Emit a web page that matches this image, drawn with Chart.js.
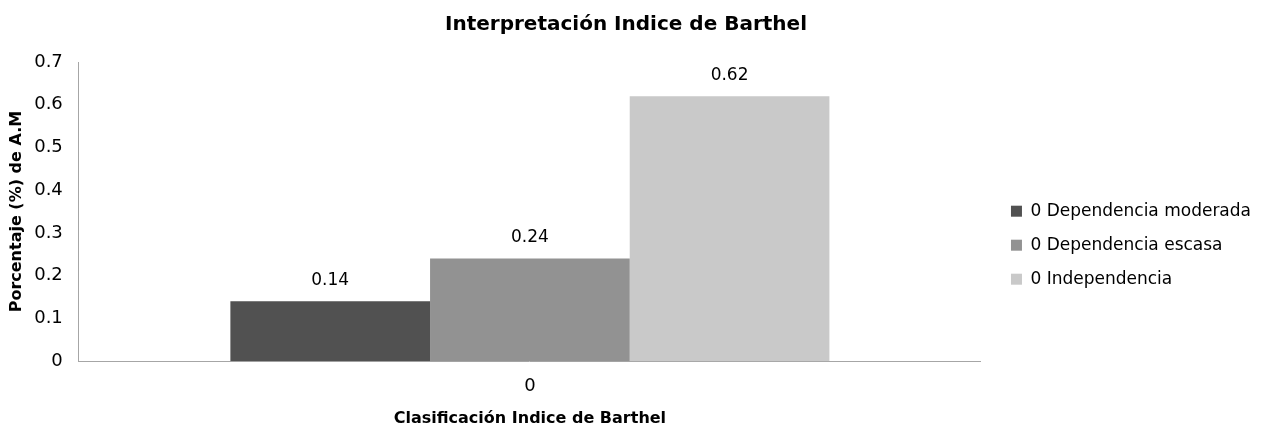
<!DOCTYPE html>
<html>
<head>
<meta charset="utf-8">
<script src="https://cdn.jsdelivr.net/npm/chart.js@4"></script>
<style>
  html, body { margin: 0; padding: 0; background: #fff; }
  #wrap { width: 1266px; height: 429px; position: relative; }
</style>
</head>
<body>
<div id="wrap"><canvas id="barthelChart"></canvas></div>
<script>
// data
const categories = ['0'];
const seriesNames = ['0 Dependencia moderada', '0 Dependencia escasa', '0 Independencia'];
const seriesValues = [[0.14], [0.24], [0.62]];
const seriesColors = ['#515151', '#929292', '#c9c9c9'];
const yTicks = [0, 0.1, 0.2, 0.3, 0.4, 0.5, 0.6, 0.7];

const FONT = "'DejaVu Sans', sans-serif";

// value labels above bars
const valueLabels = {
    id: 'valueLabels',
    afterDatasetsDraw(chart) {
        const ctx = chart.ctx;
        ctx.save();
        ctx.font = '17px ' + FONT;
        ctx.fillStyle = '#000';
        ctx.textAlign = 'center';
        ctx.textBaseline = 'middle';
        chart.data.datasets.forEach((ds, i) => {
            const meta = chart.getDatasetMeta(i);
            meta.data.forEach((bar, j) => {
                ctx.fillText(String(ds.data[j]), bar.x, bar.y - 21);
            });
        });
        ctx.restore();
    }
};

// push legend a bit away from the plot edge
const legendShift = {
    id: 'legendShift',
    afterLayout(chart) {
        if (!chart.legend) return;
        chart.legend.left += 13;
        chart.legend.right += 13;
    }
};

new Chart(document.getElementById('barthelChart'), {
    type: 'bar',
    data: {
        labels: categories,
        datasets: seriesNames.map((name, i) => ({
            label: name,
            data: seriesValues[i],
            backgroundColor: seriesColors[i],
            borderWidth: 0,
            barPercentage: 1,
            categoryPercentage: 0.664
        }))
    },
    options: {
        responsive: true,
        maintainAspectRatio: false,
        animation: false,
        layout: { padding: { top: 8, right: 18, left: 4, bottom: 1 } },
        plugins: {
            title: {
                display: true,
                text: 'Interpretación Indice de Barthel',
                color: '#000',
                font: { family: FONT, size: 20, weight: 'bold' },
                padding: { top: 5, bottom: 25 }
            },
            legend: {
                position: 'right',
                title: { display: true, text: ' ', font: { size: 12 }, padding: { top: 20, bottom: 20 } },
                labels: {
                    color: '#000',
                    boxWidth: 11,
                    boxHeight: 11,
                    padding: 17,
                    font: { family: FONT, size: 17 }
                }
            },
            tooltip: { enabled: false }
        },
        scales: {
            x: {
                grid: { display: false, drawTicks: false },
                border: { display: true, color: '#a6a6a6', width: 1 },
                ticks: { color: '#000', font: { family: FONT, size: 18 }, padding: 14 },
                title: {
                    display: true,
                    text: 'Clasificación Indice de Barthel',
                    color: '#000',
                    font: { family: FONT, size: 16, weight: 'bold' },
                    padding: { top: -2, bottom: 0 }
                }
            },
            y: {
                min: 0,
                max: 0.7,
                grid: { display: false, drawTicks: false },
                border: { display: true, color: '#a6a6a6', width: 1 },
                afterBuildTicks: axis => { axis.ticks = yTicks.map(v => ({ value: v })); },
                ticks: {
                    color: '#000',
                    font: { family: FONT, size: 18 },
                    padding: 16,
                    callback: v => v === 0 ? '0' : Number(v).toFixed(1)
                },
                title: {
                    display: true,
                    text: 'Porcentaje (%) de A.M',
                    color: '#000',
                    font: { family: FONT, size: 16, weight: 'bold' },
                    padding: { top: 3, bottom: -8 }
                }
            }
        }
    },
    plugins: [valueLabels, legendShift]
});
</script>
</body>
</html>
